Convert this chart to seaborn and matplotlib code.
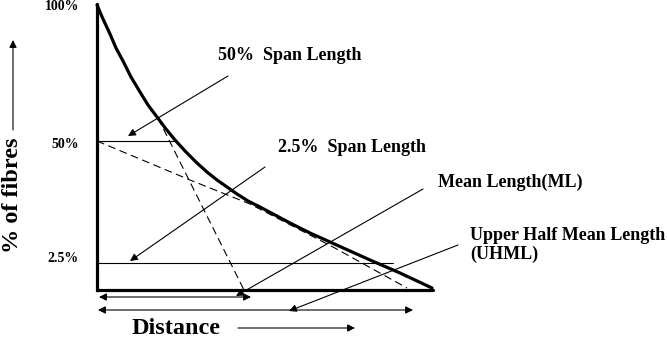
import matplotlib
matplotlib.use("Agg")
import matplotlib.pyplot as plt
import seaborn as sns
import pandas as pd

sns.set_theme(style="white")
plt.rcParams['font.family'] = ['Liberation Serif', 'DejaVu Serif']
plt.rcParams['text.color'] = 'black'

# Fibrogram curve (pixel-space of the diagram)
curve_x = [97, 103, 110, 116, 123, 131, 140, 148, 157, 166, 175, 186, 197, 207, 217,
           227, 237, 248, 260, 275, 290, 310, 330, 350, 370, 385, 400, 416, 432]
curve_y = [5, 19, 34, 48, 61, 77, 92, 105, 117, 129, 140, 152, 163, 172, 180,
           187, 194, 201, 207, 215, 223, 233, 242, 251, 260, 266.5, 273, 280.5, 288]

# tick labels on the % axis
tick_labels = ["100%", "50%", "2.5%"]
tick_pos = [7, 145, 258]

# construction lines
solid_h = [(97, 141, 176), (97, 263, 393)]            # (x0, y, x1)
dash1_x = [97, 190, 250, 333, 407]
dash1_y = [141, 180, 204, 247, 288]
dash2_x = [158, 245]
dash2_y = [118, 292]

# annotations: text lines, text position, arrow start, arrow end
ann_text = ["50%  Span Length", "2.5%  Span Length", "Mean Length(ML)",
            "Upper Half Mean Length", "(UHML)"]
ann_text_pos = [(218, 55), (278, 147), (438, 182), (470, 236), (470, 254)]
ann_from = [(228, 76), (265, 167), (423, 189), (458, 245)]
ann_to = [(128, 136), (130, 261), (236, 296), (289, 311)]

# distance double arrows
dist_arrows = [((99, 297), (251, 297)), ((98, 310), (413, 310))]

fig = plt.figure(figsize=(6.67, 3.37), dpi=100)
ax = fig.add_axes([0, 0, 1, 1])
ax.set_xlim(0, 667)
ax.set_ylim(337, 0)
ax.axis('off')

df = pd.DataFrame({"x": curve_x, "y": curve_y})
sns.lineplot(data=df, x="x", y="y", sort=False, color="black", lw=2.3, ax=ax)
for ln in ax.get_lines():
    ln.set_solid_joinstyle('round')

# axes
ax.plot([97, 97, 433], [4, 290, 290], color="black", lw=2.3, solid_joinstyle='miter')

for x0, y, x1 in solid_h:
    ax.plot([x0, x1], [y, y], color="black", lw=0.8)
ax.plot(dash1_x, dash1_y, color="black", lw=0.8, dashes=(7, 4))
ax.plot(dash2_x, dash2_y, color="black", lw=0.8, dashes=(7, 4))

for lab, yp in zip(tick_labels, tick_pos):
    ax.text(79, yp, lab, ha="right", va="center", fontsize=10, fontweight="bold")

for t, tp in zip(ann_text, ann_text_pos):
    ax.text(tp[0], tp[1], t, ha="left", va="center", fontsize=13, fontweight="bold")
for a0, a1 in zip(ann_from, ann_to):
    ax.annotate("", xy=a1, xytext=a0,
                arrowprops=dict(arrowstyle="-|>", color="black", lw=0.8,
                                mutation_scale=11, shrinkA=0, shrinkB=0))

for a0, a1 in dist_arrows:
    ax.annotate("", xy=a1, xytext=a0,
                arrowprops=dict(arrowstyle="<|-|>", color="black", lw=0.8,
                                mutation_scale=11, shrinkA=0, shrinkB=0))

ax.text(132, 328, "Distance", ha="left", va="center", fontsize=17.5, fontweight="bold")
ax.annotate("", xy=(355, 328), xytext=(238, 328),
            arrowprops=dict(arrowstyle="-|>", color="black", lw=0.8,
                            mutation_scale=11, shrinkA=0, shrinkB=0))

ax.text(13, 195, "% of fibres", ha="center", va="center", rotation=90,
        fontsize=17.5, fontweight="bold")
ax.annotate("", xy=(13, 40), xytext=(13, 130),
            arrowprops=dict(arrowstyle="-|>", color="black", lw=0.8,
                            mutation_scale=11, shrinkA=0, shrinkB=0))

fig.savefig("out.png", dpi=100)
